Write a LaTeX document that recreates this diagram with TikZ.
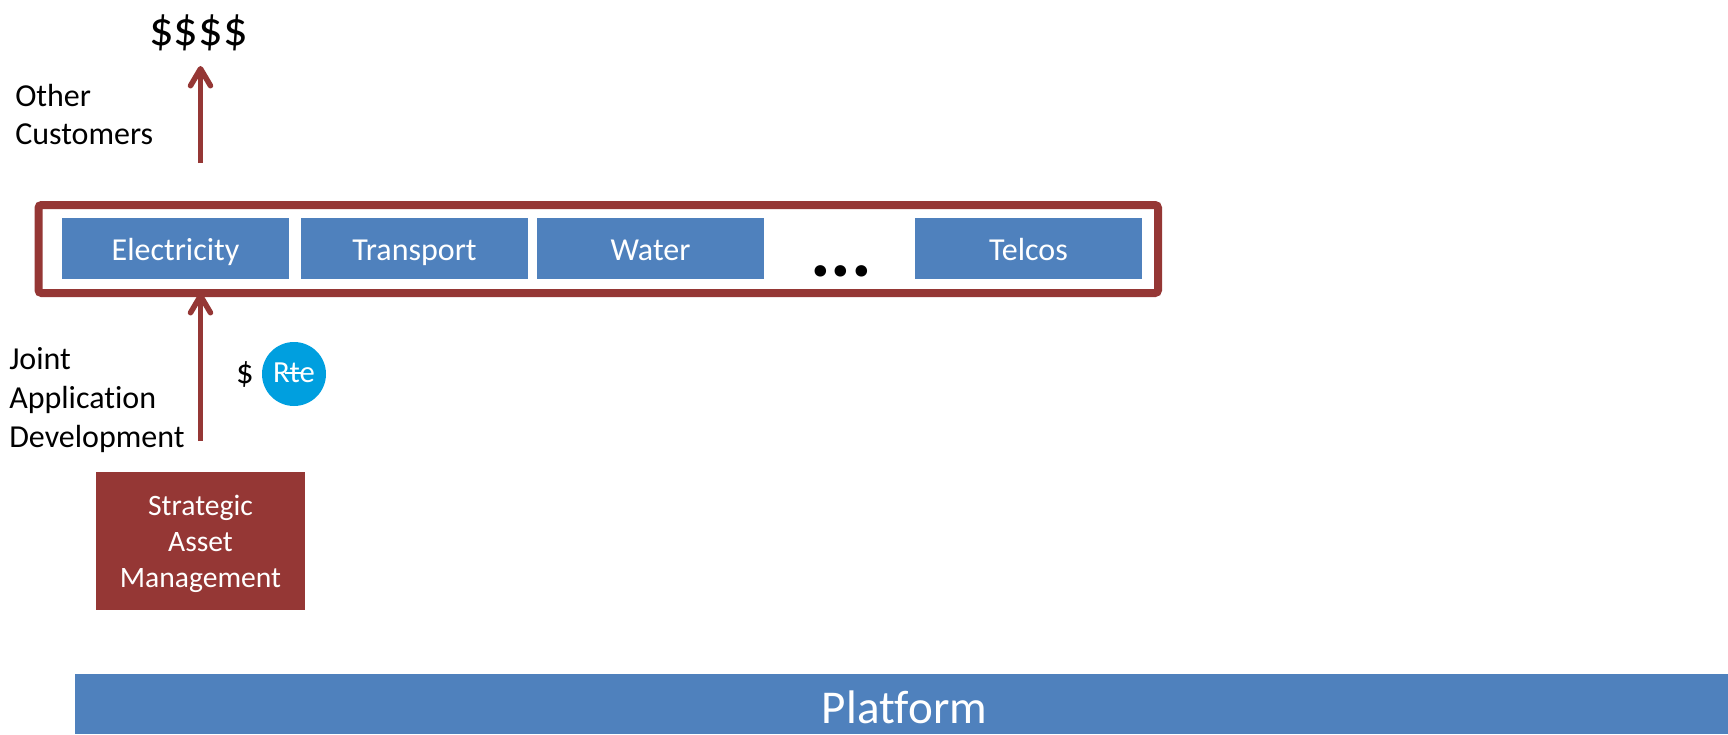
\documentclass[tikz,border=0pt]{standalone}
\usepackage{fontspec}
\setmainfont[Ligatures=NoCommon]{Carlito}
\usetikzlibrary{arrows.meta}
\definecolor{boxblue}{HTML}{4F81BD}
\definecolor{boxred}{HTML}{953735}
\definecolor{rteblue}{HTML}{009FDF}
\def\px{0.75pt}
\tikzset{
  sector/.style={fill=boxblue,text=white,minimum width=227*\px,minimum height=61*\px,inner sep=0pt,outer sep=0pt,text height=23.25pt,text depth=6pt,font=\fontsize{24}{28}\selectfont},
  frameline/.style={draw=boxred,line width=8*\px,rounded corners=3*\px,minimum width=1119.5*\px,minimum height=88*\px,inner sep=0pt,outer sep=0pt},
  flow/.style={draw=boxred,line width=5.5*\px,-{Straight Barb[length=17*\px,width=20*\px,round,line width=5.5*\px]}},
  sidelabel/.style={align=left,anchor=west,inner sep=0pt,font=\fontsize{24}{29}\selectfont},
}
\begin{document}
\begin{tikzpicture}[x=.75pt,y=-.75pt]
\useasboundingbox (0,0) rectangle (1728,735);
\node[frameline] (frame) at (598.25,249) {};
\node[sector] (elec) at (175.5,248.5) {Electricity};
\node[sector] (trans) at (414.5,248.5) {Transport};
\node[sector] (water) at (650.5,248.5) {Water};
\node[sector] (telcos) at (1028.5,248.5) {Telcos};
\node[inner sep=0pt,anchor=base,font=\fontsize{58}{60}\selectfont\bfseries] (dots) at (841,276) {...};
\node[fill=boxblue,minimum width=1653*\px,minimum height=60*\px,inner sep=0pt,outer sep=0pt] (platform) at (901.5,704) {};
\node[inner sep=0pt,text=white,font=\fontsize{35.3}{40}\selectfont] (platformtext) at (904.5,707) {Platform};
\node[fill=boxred,minimum width=209*\px,minimum height=138*\px,inner sep=0pt,outer sep=0pt] (sam) at (200.5,541) {};
\node[inner sep=0pt,text=white,align=center,font=\fontsize{22.2}{27}\selectfont] (samtext) at (200.5,544) {Strategic\\Asset\\Management};
\node[inner sep=0pt,font=\fontsize{36.5}{40}\selectfont] (money) at (198.5,33) {\$\$\$\$};
\coordinate (tip) at (200.5,66);
\node[sidelabel] (other) at (15,114.5) {Other\\Customers};
\node[sidelabel] (joint) at (9,400) {Joint\\Application\\Development};
\node[inner sep=0pt,font=\fontsize{26}{28}\selectfont] (cash) at (245,374) {\$};
\node[circle,fill=rteblue,minimum size=64*\px,inner sep=0pt,outer sep=0pt] (rte) at (294,374) {};
\node[inner sep=0pt,text=white,font=\fontsize{23}{26}\selectfont] (rtetext) at (294,373) {Rte};
\draw[white,line width=1.2*\px] ([xshift=-9*\px]rtetext.center) -- ([xshift=7*\px]rtetext.center);
\draw[flow,shorten <=42*\px] (sam.north |- frame.north) -- (tip);
\draw[flow,shorten <=31*\px] (sam.north) -- (sam.north |- frame.south);
\end{tikzpicture}
\end{document}
